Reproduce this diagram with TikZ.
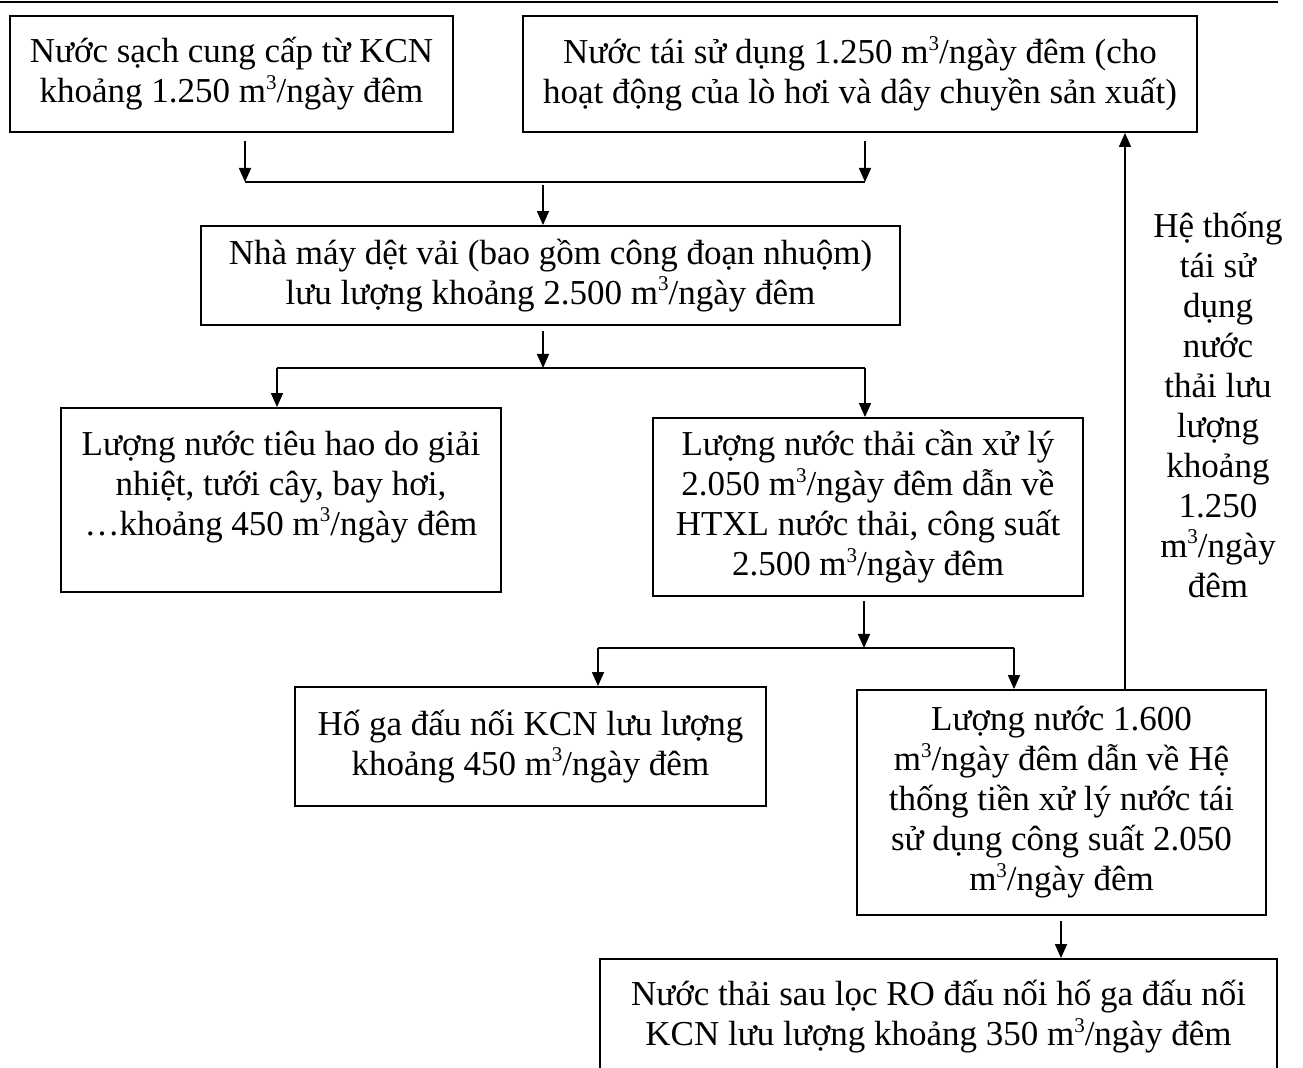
\documentclass[tikz,border=0pt]{standalone}
\usepackage{fontspec}
\setmainfont{Liberation Serif}
\usetikzlibrary{arrows.meta,positioning}
\newcommand{\mcube}{m\raisebox{0.85ex}{\fontsize{10.5}{10}\selectfont 3}}

\begin{document}
\begin{tikzpicture}[
    x=0.5pt, y=-0.5pt,
    >={Triangle[length=7pt,width=6pt]},
    font=\fontsize{17.5}{20}\selectfont,
    box/.style={draw,line width=0.9pt,align=center,inner sep=0pt},
    arr/.style={->,line width=0.75pt},
    lnk/.style={line width=0.75pt}
  ]
    \clip (0,0) rectangle (1303,1068);
    % header rule
    \draw[line width=1.1pt] (0,2) -- (1278,2);

    % Top: water sources
    \node[box,minimum width=221.5pt,minimum height=58pt] (src) at (231.5,74)
      {Nước sạch cung cấp từ KCN\\khoảng 1.250 \mcube/ngày đêm};
    \node[box,minimum width=337pt,minimum height=58pt] (reuse) at (860,74)
      {Nước tái sử dụng 1.250 \mcube/ngày đêm (cho\\hoạt động của lò hơi và dây chuyền sản xuất)};

    % Middle: factory and its two outflows
    \node[box,minimum width=349.5pt,minimum height=49.5pt] (mill) at (550.5,275.5)
      {Nhà máy dệt vải (bao gồm công đoạn nhuộm)\\lưu lượng khoảng 2.500 \mcube/ngày đêm};
    \node[box,minimum width=220pt,minimum height=92pt] (loss) at (281,500)
      {Lượng nước tiêu hao do giải\\nhiệt, tưới cây, bay hơi,\\…khoảng 450 \mcube/ngày đêm\\[-3pt]\mbox{}};
    \node[box,minimum width=215pt,minimum height=89pt] (wwt) at (868,507)
      {Lượng nước thải cần xử lý\\2.050 \mcube/ngày đêm dẫn về\\HTXL nước thải, công suất\\2.500 \mcube/ngày đêm};

    % Lower: pit, pre-treatment, RO
    \node[box,minimum width=235.5pt,minimum height=59.5pt] (pit) at (530.5,746.5)
      {Hố ga đấu nối KCN lưu lượng\\khoảng 450 \mcube/ngày đêm};
    \node[box,minimum width=204.5pt,minimum height=112.5pt] (pre) at (1061.5,802.5)
      {Lượng nước 1.600\\\mcube/ngày đêm dẫn về Hệ\\thống tiền xử lý nước tái\\sử dụng công suất 2.050\\\mcube/ngày đêm};
    \node[box,minimum width=338.5pt,minimum height=58pt] (ro) at (938.5,1017)
      {Nước thải sau lọc RO đấu nối hố ga đấu nối\\KCN lưu lượng khoảng 350 \mcube/ngày đêm};

    % side label of the return line
    \node[align=center] (lbl) at (1218,405)
      {Hệ thống\\tái sử\\dụng\\nước\\thải lưu\\lượng\\khoảng\\1.250\\\mcube/ngày\\đêm};

    % junction points
    \coordinate (j1l) at (245,182);
    \coordinate (j1m) at (543,182);
    \coordinate (j1r) at (865,182);
    \coordinate (j2l) at (277,368);
    \coordinate (j2m) at (543,368);
    \coordinate (j2r) at (865,368);
    \coordinate (j3l) at (598,648);
    \coordinate (j3m) at (864,648);
    \coordinate (j3r) at (1014,648);
    \coordinate (rx) at (1125,0);
    \coordinate (dx) at (1061,0);

    % sources -> factory
    \draw[arr,shorten <=4pt] (src.south -| j1l) -- (j1l);
    \draw[arr,shorten <=4pt] (reuse.south -| j1r) -- (j1r);
    \draw[lnk] (j1l) -- (j1r);
    \draw[arr,shorten <=1.5pt] (j1m) -- (j1m |- mill.north);

    % factory -> loss / treatment
    \draw[arr,shorten <=2.5pt] (mill.south -| j2m) -- (j2m);
    \draw[lnk] (j2l) -- (j2r);
    \draw[arr] (j2l) -- (j2l |- loss.north);
    \draw[arr] (j2r) -- (j2r |- wwt.north);

    % treatment -> pit / pre-treatment
    \draw[arr,shorten <=2pt] (wwt.south -| j3m) -- (j3m);
    \draw[lnk] (j3l) -- (j3r);
    \draw[arr] (j3l) -- (j3l |- pit.north);
    \draw[arr] (j3r) -- (j3r |- pre.north);

    % return line and RO outlet
    \draw[arr] (pre.north -| rx) -- (reuse.south -| rx);
    \draw[arr,shorten <=2.5pt] (pre.south -| dx) -- (ro.north -| dx);
\end{tikzpicture}
\end{document}
